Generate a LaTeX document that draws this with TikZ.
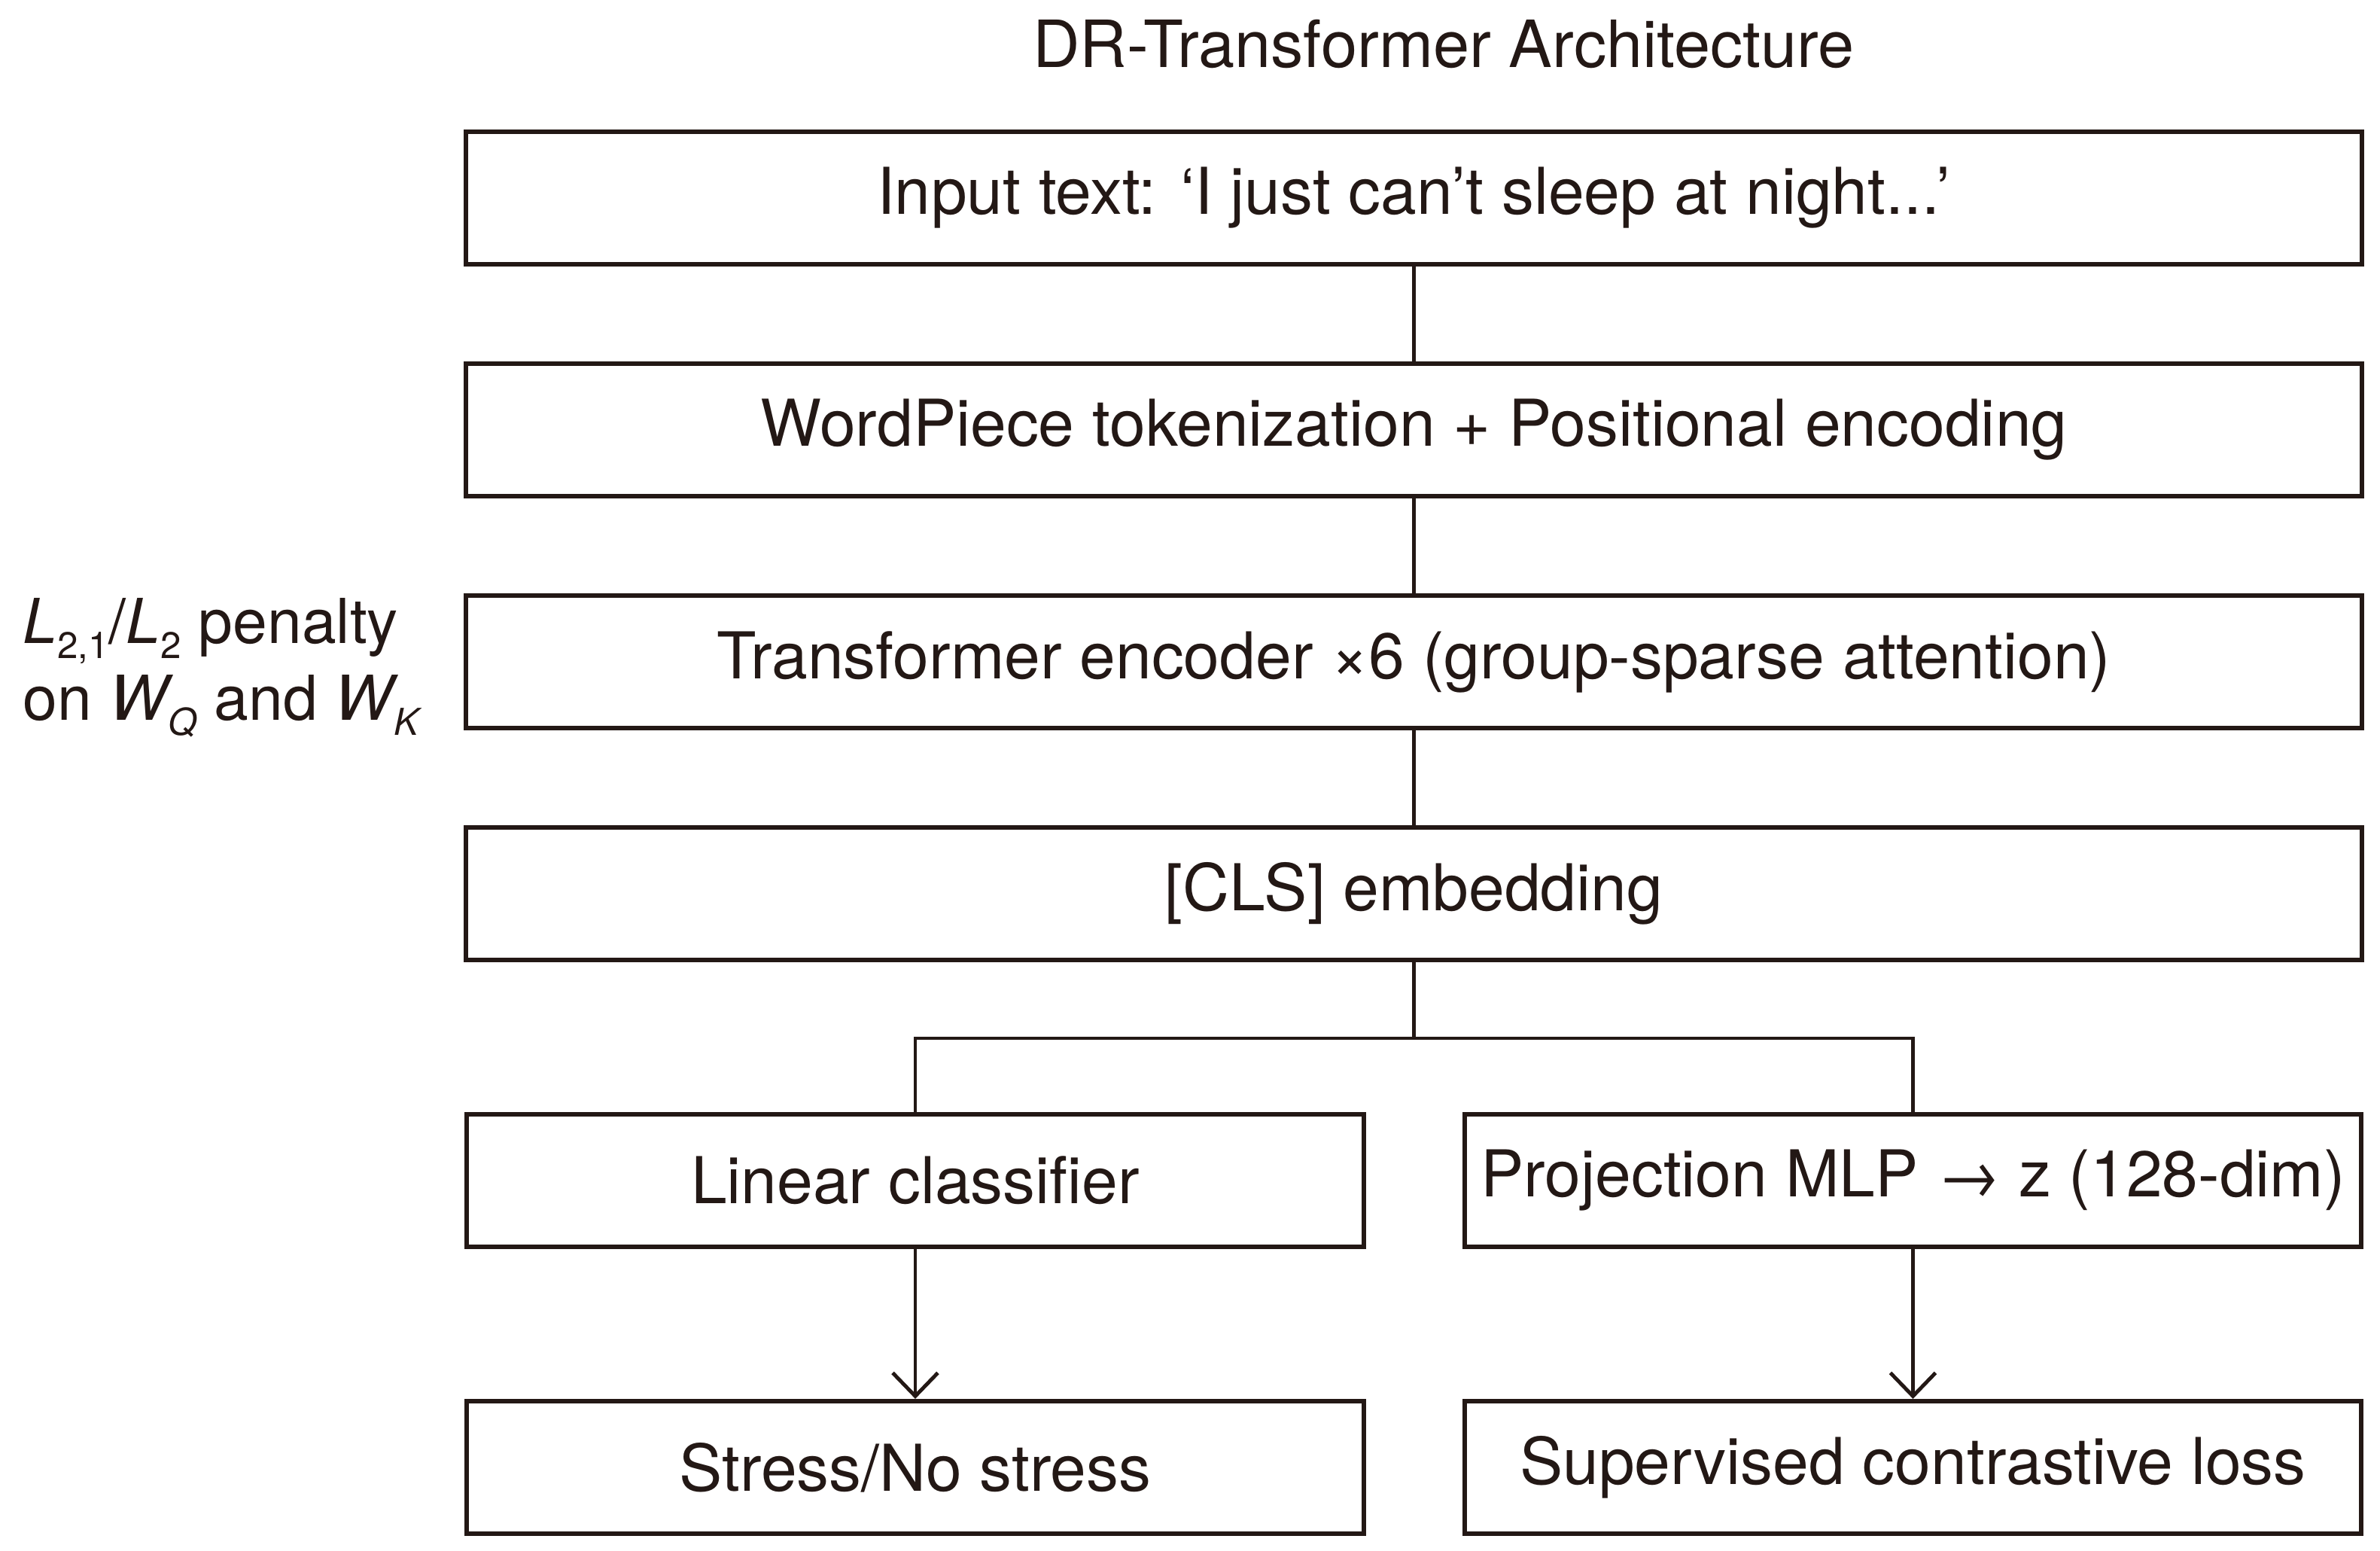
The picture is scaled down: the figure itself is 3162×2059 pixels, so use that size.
\documentclass[tikz,border=0pt]{standalone}
\usepackage{fontspec}
\setmainfont{TeX Gyre Heros}
\usetikzlibrary{arrows.meta}
\definecolor{ink}{HTML}{231815}
\newcommand{\mysub}[1]{\raisebox{-0.25em}{\fontsize{14}{14}\selectfont #1}}
\begin{document}
\begin{tikzpicture}[x=0.01cm,y=-0.01cm,
  every node/.style={text=ink},
  box/.style={draw=ink,line width=1.75pt,minimum height=1.76cm,inner sep=0pt,font=\fontsize{24.4}{28}\selectfont},
  wide/.style={box,minimum width=25.17cm},
  half/.style={box,minimum width=11.91cm},
  conn/.style={draw=ink,line width=1.4pt},
  arr/.style={conn,-{Straight Barb[length=3.1mm,width=6.0mm,line width=1.4pt]}}
]
\useasboundingbox (0,0) rectangle (3162,2059);
\node[font=\fontsize{24.6}{28}\selectfont] (title) at (1918,58) {DR-Transformer Architecture};
\node[wide] (in) at (1878.5,263) {Input text: ‘I just can’t sleep at night...’};
\node[wide] (tok) at (1878.5,571) {WordPiece tokenization + Positional encoding};
\node[wide] (enc) at (1878.5,879) {Transformer encoder ×6 (group-sparse attention)};
\node[wide] (cls) at (1878.5,1187) {[CLS] embedding};
\node[half] (lin) at (1216,1568) {Linear classifier};
\node[half] (proj) at (2541.5,1568) {Projection MLP → z (128-dim)};
\node[half] (out) at (1216,1949) {Stress/No stress};
\node[half] (loss) at (2541.5,1949) {Supervised contrastive loss};
\node[anchor=west,align=left,inner sep=0pt,font=\fontsize{23.4}{29}\selectfont] (pen) at (30,887)
 {\textit{L}\mysub{2,1}/\textit{L}\mysub{2} penalty\\
  on \textit{W}\kern-0.08em\mysub{\textit{Q}} and \textit{W}\kern-0.08em\mysub{\textit{K}}};
\coordinate (j) at (1878.5,1379);
\draw[conn] (in.south) -- (tok.north);
\draw[conn] (tok.south) -- (enc.north);
\draw[conn] (enc.south) -- (cls.north);
\draw[conn] (cls.south) -- (j);
\draw[conn] (lin.north) |- (j) -| (proj.north);
\draw[arr] (lin.south) -- (out.north);
\draw[arr] (proj.south) -- (loss.north);
\end{tikzpicture}
\end{document}
